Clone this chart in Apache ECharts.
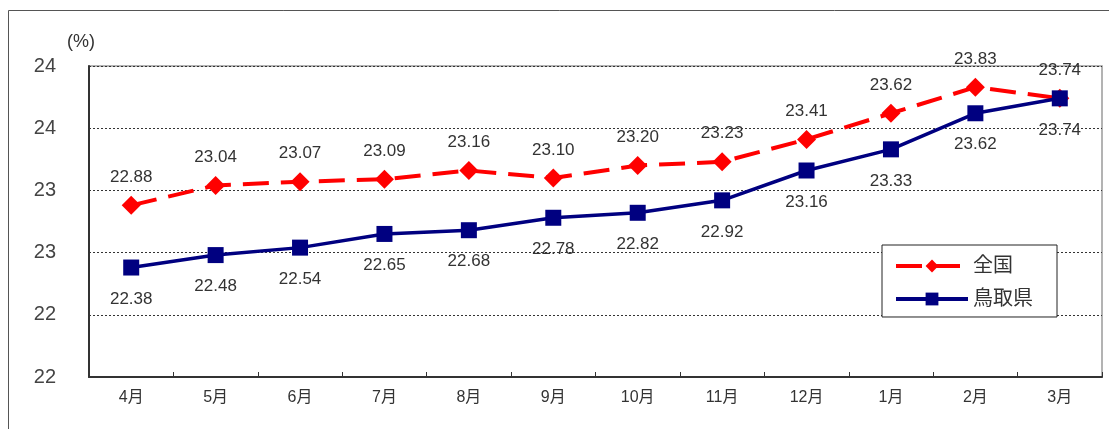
<!DOCTYPE html>
<html>
<head>
<meta charset="utf-8">
<script src="https://cdn.jsdelivr.net/npm/echarts@6/dist/echarts.min.js"></script>
<style>
  html, body { margin: 0; padding: 0; background: #fff; }
  #chart { width: 1109px; height: 429px; }
</style>
</head>
<body>
<div id="chart"></div>
<script>
// Monthly rates (%), April through March
const months = ['4月', '5月', '6月', '7月', '8月', '9月', '10月', '11月', '12月', '1月', '2月', '3月'];
const national = [22.88, 23.04, 23.07, 23.09, 23.16, 23.10, 23.20, 23.23, 23.41, 23.62, 23.83, 23.74];
const tottori = [22.38, 22.48, 22.54, 22.65, 22.68, 22.78, 22.82, 22.92, 23.16, 23.33, 23.62, 23.74];
// Y tick labels, bottom to top (ticks every 0.5 from 21.5 to 24.0)
const yTickLabels = ['22', '22', '23', '23', '24', '24'];

const FONT = '"Liberation Sans", Arial, "Noto Sans CJK JP", sans-serif';
const chart = echarts.init(document.getElementById('chart'));

chart.setOption({
  animation: false,
  textStyle: { fontFamily: FONT },
  grid: {
    left: 89, top: 66, right: 7, bottom: 52,
    show: true, borderColor: '#9a9a9a', borderWidth: 1.5, backgroundColor: '#fff'
  },
  graphic: [
    {
      type: 'rect', silent: true, z: -1,
      shape: { x: 8.5, y: 10.5, width: 1120, height: 440 },
      style: { fill: 'none', stroke: '#555', lineWidth: 1 }
    },
    {
      type: 'text', left: 67, top: 33,
      style: { text: '(%)', font: '18px ' + FONT, fill: '#333' }
    }
  ],
  legend: {
    orient: 'vertical',
    left: 882, top: 245,
    padding: [11, 24, 8, 12],
    itemWidth: 72, itemHeight: 16, itemGap: 13,
    backgroundColor: '#fff', borderColor: '#222', borderWidth: 1,
    textStyle: { fontSize: 20, color: '#333', fontFamily: FONT },
    data: [
      { name: '全国', lineStyle: { width: 4 } },
      { name: '鳥取県', lineStyle: { width: 4 } }
    ]
  },
  xAxis: {
    type: 'category',
    data: months,
    boundaryGap: true,
    axisLine: { lineStyle: { color: '#333', width: 2 } },
    axisTick: { show: true, inside: true, length: 5, lineStyle: { color: '#333', width: 1 } },
    axisLabel: { color: '#333', fontSize: 16, margin: 13, fontFamily: FONT }
  },
  yAxis: {
    type: 'value',
    min: 21.5, max: 24.0, interval: 0.5,
    axisLine: { show: true, lineStyle: { color: '#333', width: 2 } },
    axisTick: { show: false },
    splitLine: { lineStyle: { color: '#333', type: [2, 2], width: 1 } },
    axisLabel: {
      color: '#444', fontSize: 20, margin: 33, fontFamily: FONT,
      formatter: (v, i) => yTickLabels[i]
    }
  },
  series: [
    {
      name: '全国',
      type: 'line',
      data: national,
      z: 3,
      symbol: 'diamond',
      symbolSize: 19,
      itemStyle: { color: '#ff0000' },
      lineStyle: { color: '#ff0000', width: 4, type: [26, 12] },
      label: {
        show: true, position: 'top', distance: 10,
        color: '#333', fontSize: 17, fontFamily: FONT,
        formatter: p => p.value.toFixed(2)
      }
    },
    {
      name: '鳥取県',
      type: 'line',
      data: tottori,
      z: 4,
      symbol: 'rect',
      symbolSize: 16,
      itemStyle: { color: '#000080' },
      lineStyle: { color: '#000080', width: 3.5 },
      label: {
        show: true, position: 'bottom', distance: 15,
        color: '#333', fontSize: 17, fontFamily: FONT,
        formatter: p => p.value.toFixed(2)
      }
    }
  ]
});
</script>
</body>
</html>
